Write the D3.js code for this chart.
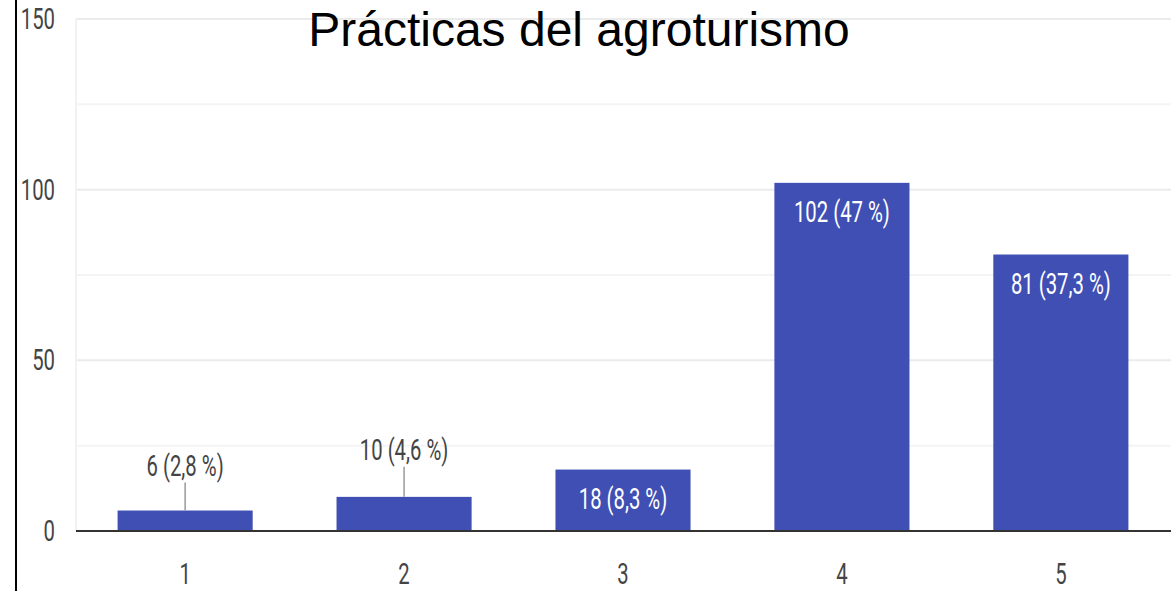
<!DOCTYPE html>
<html><head><meta charset="utf-8">
<script src="https://cdn.jsdelivr.net/npm/d3@7"></script>
<style>body{margin:0;background:#fff}svg{display:block}</style>
</head><body>
<svg id="c" width="1171" height="591"></svg>
<script>
const categories = ["1","2","3","4","5"];
const values = [6,10,18,102,81];
const labels = ["6 (2,8 %)","10 (4,6 %)","18 (8,3 %)","102 (47 %)","81 (37,3 %)"];
const yTicks = [0,50,100,150];
const title = "Prácticas del agroturismo";

const svg = d3.select("#c");
const narrow = "Roboto,sans-serif";
const FS = 29, SX = 0.7;
const x = d3.scaleBand().domain(categories).range([76,1170]).paddingInner(0.383).paddingOuter(0.19);
const y = d3.scaleLinear().domain([0,150]).range([531,19]);

function ntext(g, tx, ty, txt, fill, anchor){
  return g.append("text").attr("transform",`translate(${tx},${ty}) scale(${SX},1)`)
    .attr("text-anchor",anchor||"middle").attr("font-family",narrow).attr("font-size",FS)
    .attr("fill",fill).text(txt);
}

// grid
const grid = d3.range(0,151,25);
svg.append("g").selectAll("line").data(grid).join("line")
  .attr("x1",76).attr("x2",1171).attr("y1",d=>y(d)).attr("y2",d=>y(d))
  .attr("stroke",d=>d%50===0?"#ebebeb":"#f4f4f4").attr("stroke-width",2);
svg.append("line").attr("x1",76).attr("x2",76).attr("y1",y(150)).attr("y2",y(0)).attr("stroke","#f2f2f2").attr("stroke-width",2);

// left border
svg.append("line").attr("x1",16).attr("x2",16).attr("y1",0).attr("y2",591).attr("stroke","#000").attr("stroke-width",2);

// y axis labels
const yg = svg.append("g");
yTicks.forEach(t=>ntext(yg, 55, y(t)+10, d3.format("d")(t), "#444", "end"));

// bars
svg.append("g").selectAll("rect").data(values).join("rect")
  .attr("x",(d,i)=>x(categories[i])).attr("width",x.bandwidth())
  .attr("y",d=>y(d)).attr("height",d=>y(0)-y(d)).attr("fill","#3f4fb3");

// baseline
svg.append("line").attr("x1",76).attr("x2",1171).attr("y1",y(0)).attr("y2",y(0)).attr("stroke","#333").attr("stroke-width",2);

// x axis labels
const xg = svg.append("g");
categories.forEach(c=>ntext(xg, x(c)+x.bandwidth()/2, y(0)+53, c, "#444"));

// value labels
const outside = [true,true,false,false,false];
const labOff = [35,37];
const lg = svg.append("g");
values.forEach((v,i)=>{
  const cx = x(categories[i]) + x.bandwidth()/2;
  if(outside[i]){
    const ty = y(v) - labOff[i];
    lg.append("line").attr("x1",cx).attr("x2",cx).attr("y1",ty+7).attr("y2",y(v)).attr("stroke","#999").attr("stroke-width",1.5);
    ntext(lg, cx, ty, labels[i], "#444");
  } else {
    ntext(lg, cx, y(v)+39, labels[i], "#fff");
  }
});

// title
svg.append("text").attr("x",579).attr("y",46).attr("text-anchor","middle")
  .attr("font-family","'Liberation Sans',Arial,sans-serif").attr("font-size",48).attr("fill","#000").text(title);
</script>
</body></html>
